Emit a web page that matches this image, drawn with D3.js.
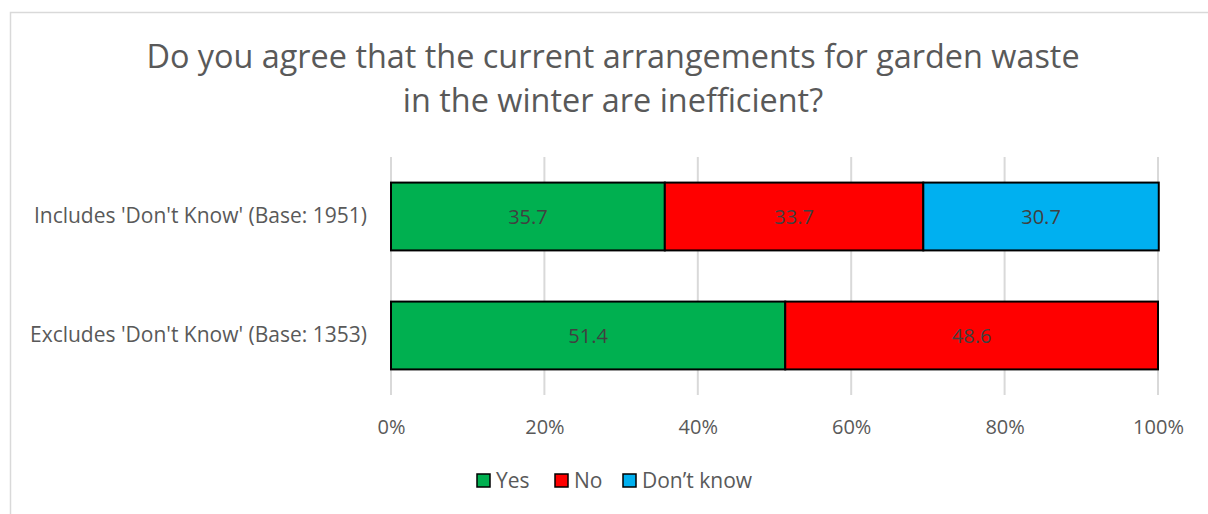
<!DOCTYPE html>
<html>
<head>
<meta charset="utf-8">
<script src="https://cdn.jsdelivr.net/npm/d3@7"></script>
<style>
  body { margin: 0; background: #fff; }
  text { font-family: "Open Sans", "Noto Sans", sans-serif; }
</style>
</head>
<body>
<div id="chart"></div>
<script>
// data
var categories = ["Includes 'Don't Know' (Base: 1951)", "Excludes 'Don't Know' (Base: 1353)"];
var seriesNames = ["Yes", "No", "Don’t know"];
var seriesColors = ["#00b050", "#ff0000", "#00b0f0"];
var yesValues = [35.7, 51.4];
var noValues = [33.7, 48.6];
var dontKnowValues = [30.7, 0];
var xTicks = [0, 20, 40, 60, 80, 100];
var titleLines = ["Do you agree that the current arrangements for garden waste", "in the winter are inefficient?"];

var W = 1208, H = 514;
var margin = {top: 157, right: 50, bottom: 119, left: 391};
var width = W - margin.left - margin.right,
    height = H - margin.top - margin.bottom;

var svg = d3.select("#chart")
  .append("svg")
    .attr("width", W)
    .attr("height", H);

// outer chart frame
svg.append("rect")
  .attr("x", 10.5).attr("y", 12.5)
  .attr("width", W + 20).attr("height", H + 20)
  .attr("fill", "none")
  .attr("stroke", "#d9d9d9")
  .attr("stroke-width", 1.5);

// title
svg.append("text")
  .attr("x", 613)
  .attr("y", 68)
  .attr("text-anchor", "middle")
  .style("font-size", "32.4px")
  .attr("fill", "#595959")
  .selectAll("tspan")
  .data(titleLines)
  .enter()
  .append("tspan")
    .attr("x", 613)
    .attr("dy", function(d, i) { return i === 0 ? 0 : 44; })
    .text(function(d) { return d; });

var g = svg.append("g")
  .attr("transform", "translate(" + margin.left + "," + margin.top + ")");

var x = d3.scaleLinear().domain([0, 100]).range([0, width]);
var y = d3.scaleBand().domain(categories).range([0, height]).paddingInner(0.43).paddingOuter(0.215);

// gridlines
g.selectAll(".grid")
  .data(xTicks)
  .enter()
  .append("line")
    .attr("x1", function(d) { return x(d); })
    .attr("x2", function(d) { return x(d); })
    .attr("y1", 0)
    .attr("y2", height)
    .attr("stroke", "#d9d9d9")
    .attr("stroke-width", 2);

// x axis labels
var xAxis = g.append("g")
  .attr("transform", "translate(0," + height + ")")
  .call(d3.axisBottom(x).tickValues(xTicks).tickSize(0).tickPadding(25)
    .tickFormat(function(d) { return d + "%"; }));
xAxis.select(".domain").remove();
xAxis.selectAll("text")
  .style("font-size", "20px")
  .style("font-family", "'Open Sans', sans-serif")
  .attr("fill", "#595959");

// y axis labels
var yAxis = g.append("g")
  .call(d3.axisLeft(y).tickSize(0).tickPadding(24));
yAxis.select(".domain").remove();
yAxis.selectAll("text")
  .style("font-size", "21px")
  .style("font-family", "'Open Sans', sans-serif")
  .attr("fill", "#595959");

// stack the series
var rows = categories.map(function(c, i) {
  return {cat: c, yes: yesValues[i], no: noValues[i], dk: dontKnowValues[i]};
});
var stack = d3.stack().keys(["yes", "no", "dk"])(rows);

var layers = g.selectAll(".layer")
  .data(stack)
  .enter()
  .append("g")
    .attr("fill", function(d, i) { return seriesColors[i]; });

layers.selectAll("rect")
  .data(function(d) { return d.filter(function(p) { return p[1] - p[0] > 0; }); })
  .enter()
  .append("rect")
    .attr("x", function(d) { return x(d[0]); })
    .attr("y", function(d) { return y(d.data.cat); })
    .attr("width", function(d) { return x(d[1]) - x(d[0]); })
    .attr("height", y.bandwidth())
    .attr("stroke", "#000")
    .attr("stroke-width", 2);

layers.selectAll("text")
  .data(function(d) { return d.filter(function(p) { return p[1] - p[0] > 0; }); })
  .enter()
  .append("text")
    .attr("x", function(d) { return (x(d[0]) + x(d[1])) / 2; })
    .attr("y", function(d) { return y(d.data.cat) + y.bandwidth() / 2; })
    .attr("dy", "0.35em")
    .attr("text-anchor", "middle")
    .style("font-size", "20px")
    .attr("fill", "#404040")
    .text(function(d) { return (d[1] - d[0]).toFixed(1); });

// legend
var legendX = [477, 555, 623];
var legend = svg.append("g").selectAll("g")
  .data(seriesNames)
  .enter()
  .append("g")
    .attr("transform", function(d, i) { return "translate(" + legendX[i] + ",474)"; });
legend.append("rect")
  .attr("width", 13).attr("height", 13)
  .attr("fill", function(d, i) { return seriesColors[i]; })
  .attr("stroke", "#000")
  .attr("stroke-width", 1.5);
legend.append("text")
  .attr("x", 19)
  .attr("y", 6.5)
  .attr("dy", "0.35em")
  .style("font-size", "21px")
  .attr("fill", "#595959")
  .text(function(d) { return d; });
</script>
</body>
</html>
